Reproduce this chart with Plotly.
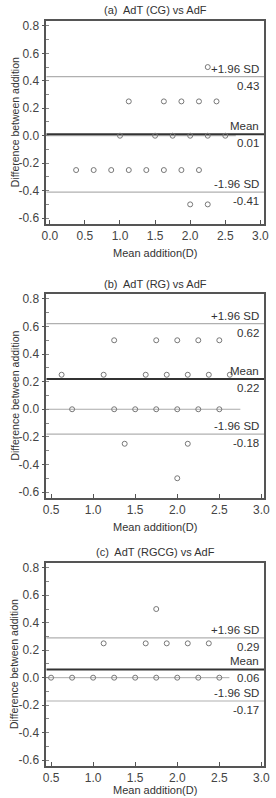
import plotly.graph_objects as go

FONT = "Liberation Sans Narrow, Arial Narrow, Liberation Sans, Arial, sans-serif"

titles = ["(a)  AdT (CG) vs AdF", "(b)  AdT (RG) vs AdF", "(c)  AdT (RGCG) vs AdF"]

# panel (a)
a_x = [2.25, 1.125, 1.625, 1.875, 2.125, 2.375, 1.0, 1.5, 1.75, 2.0, 2.25, 2.5,
       0.375, 0.625, 0.875, 1.125, 1.375, 1.625, 1.875, 2.125, 2.0, 2.25]
a_y = [0.5, 0.25, 0.25, 0.25, 0.25, 0.25, 0, 0, 0, 0, 0, 0,
       -0.25, -0.25, -0.25, -0.25, -0.25, -0.25, -0.25, -0.25, -0.5, -0.5]
# panel (b)
b_x = [1.25, 1.75, 2.0, 2.25, 2.5,
       0.625, 1.125, 1.625, 1.875, 2.125, 2.375, 2.625,
       0.75, 1.25, 1.5, 1.75, 2.0, 2.25, 2.5,
       1.375, 2.125, 2.0]
b_y = [0.5] * 5 + [0.25] * 7 + [0] * 7 + [-0.25, -0.25, -0.5]
# panel (c)
c_x = [1.75, 1.125, 1.625, 1.875, 2.125, 2.375,
       0.5, 0.75, 1.0, 1.25, 1.5, 1.75, 2.0, 2.25, 2.5]
c_y = [0.5] + [0.25] * 5 + [0] * 9

upper_sd = [0.43, 0.62, 0.29]
mean_diff = [0.01, 0.22, 0.06]
lower_sd = [-0.41, -0.18, -0.17]
zero_line_end = [2.65, 2.75, 2.62]

x_ranges = [[-0.05, 3.055], [0.443, 3.034], [0.443, 3.034]]
x_ticks = [[0.0, 0.5, 1.0, 1.5, 2.0, 2.5, 3.0], [0.5, 1.0, 1.5, 2.0, 2.5, 3.0], [0.5, 1.0, 1.5, 2.0, 2.5, 3.0]]
y_range = [-0.644, 0.836]
y_ticks = [-0.6, -0.4, -0.2, 0.0, 0.2, 0.4, 0.6, 0.8]

xs = [a_x, b_x, c_x]
ys = [a_y, b_y, c_y]

H = 798.0
W = 276.0
panel_px = [(19, 223), (293, 498), (563, 767)]
title_px = [8, 283, 552]
xtitle_px = [252, 527, 791]
x_dom = [43 / W, 270 / W]

AX = "#555555"
fig = go.Figure()
layout = dict(
    width=276, height=798, margin=dict(l=0, r=0, t=0, b=0),
    paper_bgcolor="white", plot_bgcolor="white", showlegend=False,
    font=dict(family=FONT, size=12, color="#333333"),
)
annotations = []
for i in range(3):
    sfx = "" if i == 0 else str(i + 1)
    xa, ya = "x" + sfx, "y" + sfx
    top, bot = panel_px[i]
    ydom = [1 - bot / H, 1 - top / H]
    layout["xaxis" + sfx] = dict(
        domain=x_dom, range=x_ranges[i], tickvals=x_ticks[i],
        ticktext=["%.1f" % v for v in x_ticks[i]],
        ticks="inside", ticklen=4, tickcolor=AX, showline=True, linecolor=AX,
        linewidth=1.5, mirror=True, showgrid=False, zeroline=False, anchor=ya,
        tickfont=dict(size=12, color="#444"), fixedrange=True,
    )
    layout["yaxis" + sfx] = dict(
        domain=ydom, range=y_range, tickvals=y_ticks,
        ticktext=["%.1f" % v for v in y_ticks],
        ticks="outside", ticklen=3, tickcolor=AX, showline=True, linecolor=AX,
        linewidth=1.5, mirror=True, showgrid=False, zeroline=False, anchor=xa,
        tickfont=dict(size=12, color="#444"),
        minor=dict(ticks="inside", ticklen=3, dtick=0.1, tickcolor="#888", showgrid=False),
    )
    # zero line (partial, grey)
    fig.add_trace(go.Scatter(
        x=[x_ranges[i][0], zero_line_end[i]], y=[0, 0], mode="lines",
        line=dict(color="#aaaaaa", width=1), xaxis=xa, yaxis=ya, hoverinfo="skip"))
    # SD lines and mean line
    for val, col, w in [(upper_sd[i], "#b0b0b0", 1.2), (lower_sd[i], "#b0b0b0", 1.2), (mean_diff[i], "#333333", 2)]:
        fig.add_trace(go.Scatter(
            x=[x_ranges[i][0], x_ranges[i][1]], y=[val, val], mode="lines",
            line=dict(color=col, width=w), xaxis=xa, yaxis=ya, hoverinfo="skip"))
    # points
    fig.add_trace(go.Scatter(
        x=xs[i], y=ys[i], mode="markers",
        marker=dict(symbol="circle-open", size=5, color="#777777", line=dict(width=1)),
        xaxis=xa, yaxis=ya))
    # labels
    for label, val in [("+1.96 SD", upper_sd[i]), ("Mean", mean_diff[i]), ("-1.96 SD", lower_sd[i])]:
        annotations.append(dict(
            text=label, x=0.985, xref=xa + " domain", y=val, yref=ya,
            xanchor="right", yanchor="bottom", showarrow=False, yshift=0,
            font=dict(size=11.5, color="#333")))
        annotations.append(dict(
            text="%.2f" % val, x=0.985, xref=xa + " domain", y=val, yref=ya,
            xanchor="right", yanchor="top", showarrow=False, yshift=-1,
            font=dict(size=11.5, color="#333")))
    annotations.append(dict(
        text=titles[i], x=(x_dom[0] + x_dom[1]) / 2, xref="paper",
        y=1 - title_px[i] / H, yref="paper", xanchor="center", yanchor="middle",
        showarrow=False, font=dict(size=11, color="#333")))
    annotations.append(dict(
        text="Mean addition(D)", x=(x_dom[0] + x_dom[1]) / 2, xref="paper",
        y=1 - xtitle_px[i] / H, yref="paper", xanchor="center", yanchor="middle",
        showarrow=False, font=dict(size=11, color="#333")))
    annotations.append(dict(
        text="Difference between addition", x=10 / W, xref="paper",
        y=(ydom[0] + ydom[1]) / 2, yref="paper", xanchor="center", yanchor="middle",
        textangle=-90, showarrow=False, font=dict(size=10.5, color="#333")))

layout["annotations"] = annotations
fig.update_layout(**layout)
fig.write_html("out.html")
